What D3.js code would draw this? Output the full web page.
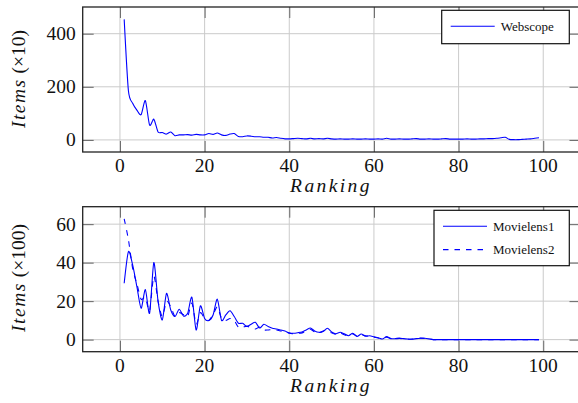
<!DOCTYPE html>
<html><head><meta charset="utf-8">
<script src="https://cdn.jsdelivr.net/npm/d3@7"></script>
<style>
body{margin:0;background:#fff;} svg{display:block;}
.lbl{font-family:"Liberation Serif","Times New Roman",serif;fill:#111;}
.tick-lbl{font-size:19.5px;}
.ax-lbl{font-size:19.5px;}
.leg-lbl{font-size:13px;}
</style>
</head><body>
<svg id="chart" width="578" height="403"></svg>
<script>
// ---- data ----
const rankings = d3.range(1, 100);
const xTicks = [0, 20, 40, 60, 80, 100];
const yTicksTop = [0, 200, 400];
const yTicksBottom = [0, 20, 40, 60];
const webscope = [
454,185,138,112,95,148,56,78,30,28,
22,30,16,19,19,20,18,21,19,19,
24,21,26,19,17,22,24,13,12,15,
14,12,12,10,10,7,9,6,4,4,
5,6,5,4,6,4,5,4,6,4,
3,4,3,3,4,3,3,4,3,3,
4,3,6,3,3,4,3,3,4,5,
3,3,4,3,3,4,5,3,3,3,
3,4,3,3,4,4,5,5,6,8,
10,2,1,1,2,3,4,6,8];
const movielens1 = [
29.3,45.7,38.8,27.5,16.3,26,13.7,40,20,10.2,
24,15.4,12,15.8,12.3,13.7,22,5,17.5,11,
9.9,12.8,21,10,12.8,15,12,8.5,8.5,6.8,
8,9,6,8,6.8,5.9,5.5,5,4.5,3.3,
3.3,3.6,4,5,6,4.5,3.8,4.2,5.9,4,
3,3.8,3,2,3.3,1.6,2.9,1.8,2,1.5,
1,0.3,1.6,0.5,0.5,0.8,0.5,0.3,0.2,0.5,
0.7,0.7,0.4,0,0,0,0,0,0,0,
0,0,0,0,0,0,0,0,0,0,
0,0,0,0,0,0,0,0,0];
const movielens2 = [
62.8,52,37,29,21,22,15,33,20,12,
20,17,12,14,13,12,19,8,14,11,
10,13,17,11,10,11,10,6.4,6.5,7,
6,5.5,6.5,5,5,5.2,5,4.5,4,3.5,
3,3.3,3.5,4.5,5.4,4,3.5,4.5,5,3.5,
2.8,3.5,2.5,2,3,1.8,2.5,2,1.8,1.2,
0.8,0.5,1.2,0.6,0.4,0.6,0.4,0.2,0.3,0.5,
0.8,0.6,0.3,0,0,0,0,0,0,0,
0,0,0,0,0,0,0,0,0,0,
0,0,0,0,0,0,0,0,0];

const svg = d3.select("#chart");
const L = 82.7, R = 580.5;
const x = d3.scaleLinear().domain([-8.8, 108.8]).range([L, R]);

function panel(cfg) {
  const y = d3.scaleLinear().domain(cfg.ydom).range([cfg.bottom, cfg.top]);
  const g = svg.append("g");
  const clipId = "clip" + cfg.id;
  svg.append("clipPath").attr("id", clipId).append("rect")
    .attr("x", L).attr("y", cfg.top).attr("width", R - L).attr("height", cfg.bottom - cfg.top);
  // grid
  g.append("g").selectAll("line").data(xTicks).join("line")
    .attr("x1", d => x(d)).attr("x2", d => x(d)).attr("y1", cfg.top).attr("y2", cfg.bottom)
    .attr("stroke", "#cbcbcb").attr("stroke-width", 1);
  g.append("g").selectAll("line").data(cfg.yticks).join("line")
    .attr("x1", L).attr("x2", R).attr("y1", d => y(d)).attr("y2", d => y(d))
    .attr("stroke", "#cbcbcb").attr("stroke-width", 1);
  // inner ticks
  const tl = 11, tc = "#666";
  const axB = d3.axisTop(x).tickValues(xTicks).tickSize(tl).tickFormat("");
  const axT = d3.axisBottom(x).tickValues(xTicks).tickSize(tl).tickFormat("");
  const axLft = d3.axisRight(y).tickValues(cfg.yticks).tickSize(tl).tickFormat("");
  const axRgt = d3.axisLeft(y).tickValues(cfg.yticks).tickSize(tl).tickFormat("");
  [[axB, `translate(0,${cfg.bottom})`], [axT, `translate(0,${cfg.top})`],
   [axLft, `translate(${L},0)`], [axRgt, `translate(${R},0)`]].forEach(([ax, tr]) => {
    const a = g.append("g").attr("transform", tr).call(ax);
    a.select(".domain").remove();
    a.selectAll("line").attr("stroke", tc).attr("stroke-width", 1);
    a.selectAll("text").remove();
  });
  // lines
  const line = d3.line().x((d, i) => x(rankings[i])).y(d => y(d)).curve(d3.curveCardinal.tension(0.25));
  cfg.series.forEach(s => {
    g.append("path").attr("d", line(s.values)).attr("clip-path", `url(#${clipId})`)
      .attr("fill", "none").attr("stroke", "#0000ff").attr("stroke-width", 1.1)
      .attr("stroke-dasharray", s.dash || null);
  });
  // frame
  g.append("rect").attr("x", L).attr("y", cfg.top).attr("width", R - L).attr("height", cfg.bottom - cfg.top)
    .attr("fill", "none").attr("stroke", "#222").attr("stroke-width", 1.3);
  // tick labels
  g.append("g").selectAll("text").data(xTicks).join("text")
    .attr("class", "lbl tick-lbl")
    .attr("x", d => x(d)).attr("y", cfg.bottom + 20).attr("text-anchor", "middle").text(d => d);
  g.append("g").selectAll("text").data(cfg.yticks).join("text")
    .attr("class", "lbl tick-lbl")
    .attr("x", L - 7).attr("y", d => y(d) + 6.5).attr("text-anchor", "end").text(d => d);
  // x label
  g.append("text").attr("class", "lbl ax-lbl").attr("x", 331).attr("y", cfg.bottom + 40)
    .attr("text-anchor", "middle").style("font-style", "italic").style("letter-spacing", "2.4px")
    .text("Ranking");
  // y label
  const yl = g.append("text").attr("class", "lbl ax-lbl")
    .attr("transform", `translate(25,${cfg.ymid}) rotate(-90)`).attr("text-anchor", "middle");
  yl.append("tspan").style("font-style", "italic").style("letter-spacing", "1.5px").text("Items");
  yl.append("tspan").text(" (×" + cfg.unit + ")");
  // legend
  const lg = g.append("g");
  lg.append("rect").attr("x", cfg.leg.x).attr("y", cfg.leg.y).attr("width", cfg.leg.w).attr("height", cfg.leg.h)
    .attr("fill", "#fff").attr("stroke", "#111").attr("stroke-width", 1.2);
  cfg.series.forEach((s, i) => {
    const yy = cfg.leg.y + 16 + i * 23.3;
    lg.append("line").attr("x1", cfg.leg.x + 9).attr("x2", cfg.leg.x + 53).attr("y1", yy).attr("y2", yy)
      .attr("stroke", "#0000ff").attr("stroke-width", 1.1).attr("stroke-dasharray", s.dash || null);
    lg.append("text").attr("class", "lbl leg-lbl").attr("x", cfg.leg.x + 59).attr("y", yy + 4.5).text(s.name);
  });
}

panel({id: 1, top: 7, bottom: 152, ydom: [-45.5, 500.5], yticks: yTicksTop, unit: 10, ymid: 79,
  series: [{name: "Webscope", values: webscope}],
  leg: {x: 441.7, y: 10.3, w: 127.6, h: 33.4}});
panel({id: 2, top: 206.7, bottom: 351.7, ydom: [-6.28, 69.08], yticks: yTicksBottom, unit: 100, ymid: 278,
  series: [{name: "Movielens1", values: movielens1}, {name: "Movielens2", values: movielens2, dash: "5.5,6"}],
  leg: {x: 434, y: 210.3, w: 135.3, h: 55.4}});
</script>
</body></html>
